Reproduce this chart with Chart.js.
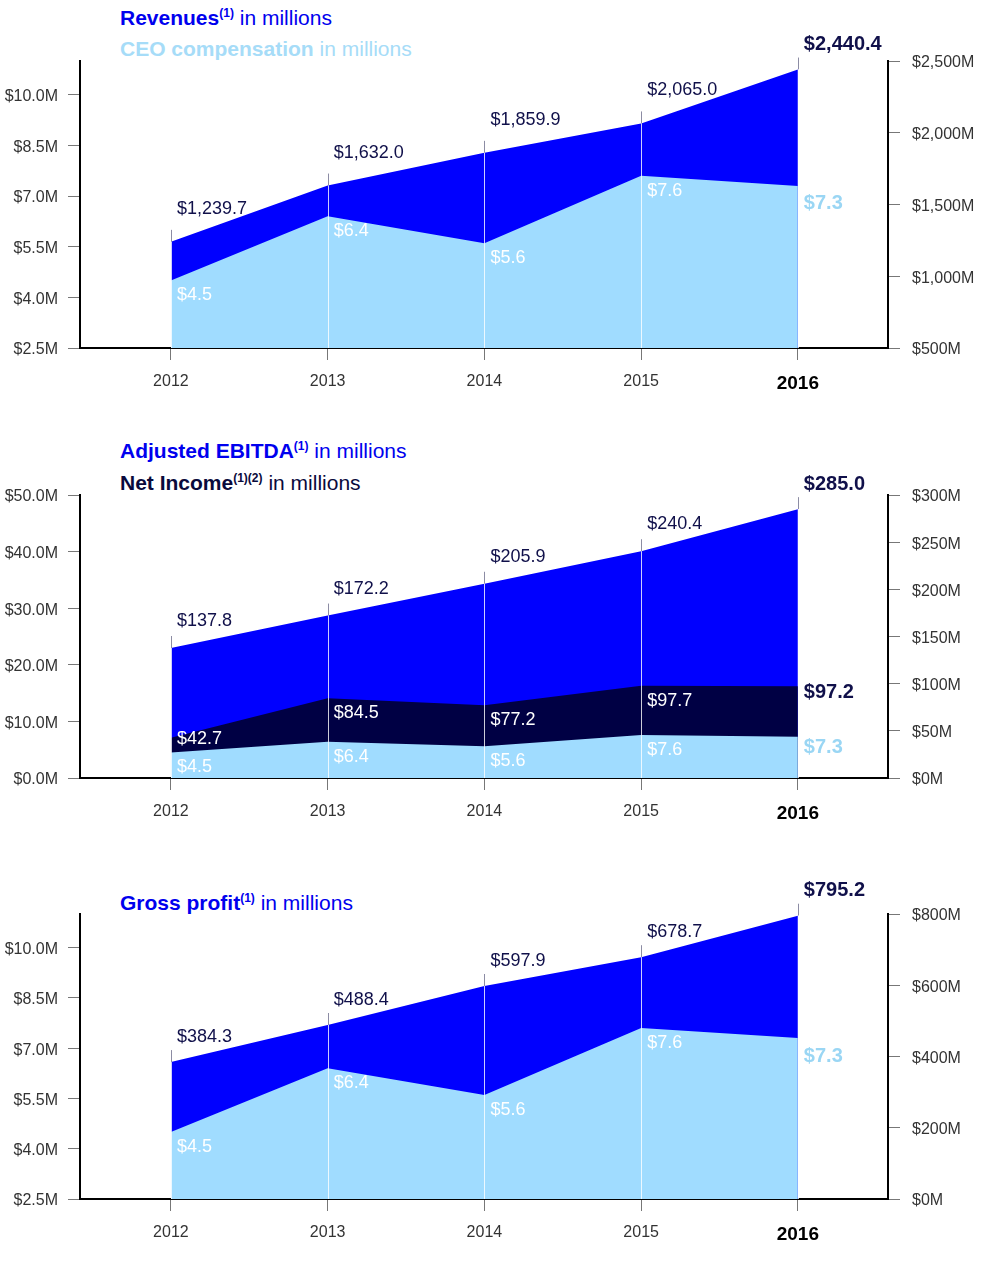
<!DOCTYPE html>
<html>
<head>
<meta charset="utf-8">
<script src="https://cdn.jsdelivr.net/npm/chart.js@4/dist/chart.umd.min.js"></script>
<style>
  body { margin: 0; background: #fff; font-family: "Liberation Sans", Arial, sans-serif; }
  #page { position: relative; width: 983px; height: 1282px; }
  canvas { position: absolute; left: 0; }
  .ttl { position: absolute; left: 120px; font-size: 21px; line-height: 24px; white-space: nowrap; }
  .ttl b { font-weight: bold; }
  .ttl sup { font-size: 12px; line-height: 0; vertical-align: 8px; font-weight: bold; }
</style>
</head>
<body>
<div id="page">
  <div class="ttl" style="top:6px;color:#0000ee"><b>Revenues<sup>(1)</sup></b> in millions</div>
  <div class="ttl" style="top:37px;color:#a6dcf8"><b>CEO compensation</b> in millions</div>
  <canvas id="c1" width="983" height="398" style="top:0px"></canvas>

  <div class="ttl" style="top:439px;color:#0000ee"><b>Adjusted EBITDA<sup>(1)</sup></b> in millions</div>
  <div class="ttl" style="top:471px;color:#0a0a3c"><b>Net Income<sup>(1)(2)</sup></b> in millions</div>
  <canvas id="c2" width="983" height="408" style="top:420px"></canvas>

  <div class="ttl" style="top:891px;color:#0000ee"><b>Gross profit<sup>(1)</sup></b> in millions</div>
  <canvas id="c3" width="983" height="409" style="top:840px"></canvas>
</div>

<script>
// data, in millions
const years = [2012, 2013, 2014, 2015, 2016];
const revenue = [1239.7, 1632.0, 1859.9, 2065.0, 2440.4];
const ceoComp = [4.5, 6.4, 5.6, 7.6, 7.3];
const ebitda = [137.8, 172.2, 205.9, 240.4, 285.0];
const netIncome = [42.7, 84.5, 77.2, 97.7, 97.2];
const grossProfit = [384.3, 488.4, 597.9, 678.7, 795.2];

// tick labels
const ceoTicks = [2.5, 4.0, 5.5, 7.0, 8.5, 10.0];
const ceoTicks2 = [0, 10, 20, 30, 40, 50];
const revenueTicks = [500, 1000, 1500, 2000, 2500];
const ebitdaTicks = [0, 50, 100, 150, 200, 250, 300];
const grossTicks = [0, 200, 400, 600, 800];

const FONT = '"Liberation Sans", Arial, sans-serif';
const BLUE = '#0000ff';
const LIGHT = '#a0dcff';
const NAVY = '#000044';
const TEXT_NAVY = '#10104a';

const fmtVal = v => '$' + v.toLocaleString('en-US', { minimumFractionDigits: 1, maximumFractionDigits: 1 });
const isLastYear = c => !!(c.tick && c.tick.value === years[years.length - 1]);

// vertical year lines
const yearLines = {
  id: 'yearLines',
  afterDatasetsDraw(chart) {
    const ctx = chart.ctx;
    const xs = chart.scales.x;
    const bottom = chart.chartArea.bottom;
    ctx.save();
    ctx.lineWidth = 1;
    years.forEach((yr, i) => {
      const x = Math.round(xs.getPixelForValue(yr)) + 0.5;
      let top = bottom;
      chart.data.datasets.forEach((ds, di) => {
        const el = chart.getDatasetMeta(di).data[i];
        if (el && el.y < top) top = el.y;
      });
      ctx.strokeStyle = '#8c8ca4';
      ctx.beginPath(); ctx.moveTo(x, top - 12); ctx.lineTo(x, top); ctx.stroke();
      ctx.strokeStyle = 'rgba(255,255,255,0.8)';
      ctx.beginPath(); ctx.moveTo(x, top); ctx.lineTo(x, bottom); ctx.stroke();
    });
    ctx.restore();
  }
};

// value labels
const valueLabels = {
  id: 'valueLabels',
  afterDraw(chart) {
    const ctx = chart.ctx;
    const off = chart.options.plugins.valueLabels.above;
    const bottom = chart.chartArea.bottom;
    let lastBelowY = null;
    ctx.save();
    ctx.textAlign = 'left';
    ctx.textBaseline = 'middle';
    chart.data.datasets.forEach((ds, di) => {
      const pts = chart.getDatasetMeta(di).data;
      pts.forEach((p, i) => {
        const last = i === pts.length - 1;
        let y;
        if (ds.labelPos === 'above') {
          y = p.y - (last ? 25 : off);
        } else if (last) {
          // end labels sit right of the area, stacked without overlap
          y = Math.min(p.y + 18, lastBelowY === null ? bottom - 31 : lastBelowY - 55);
          lastBelowY = y;
        } else {
          y = p.y + 15;
          if (di > 0) {
            const below = chart.getDatasetMeta(di - 1).data[i];
            y = Math.min(y, below.y - 13);
          }
        }
        ctx.font = last ? 'bold 20px ' + FONT : '18px ' + FONT;
        ctx.fillStyle = last ? ds.lastColor : ds.labelColor;
        ctx.fillText(fmtVal(ds.data[i].y), p.x + 6, y);
      });
    });
    ctx.restore();
  }
};

function area(label, values, color, axis, pos, labelColor, lastColor) {
  return {
    label,
    data: years.map((yr, i) => ({ x: yr, y: values[i] })),
    yAxisID: axis,
    backgroundColor: color,
    borderColor: 'rgba(0,0,0,0)',
    borderWidth: 1,
    pointRadius: 0,
    tension: 0,
    fill: 'start',
    labelPos: pos,
    labelColor,
    lastColor
  };
}

function fixedTicks(list) {
  return s => { s.ticks = list.map(v => ({ value: v })); };
}

function makeChart(id, datasets, left, right, top, aboveOff) {
  const tickFont = { family: FONT, size: 16 };
  return new Chart(document.getElementById(id), {
    type: 'line',
    data: { datasets },
    options: {
      responsive: false,
      animation: false,
      devicePixelRatio: 1,
      layout: { padding: { top: top, left: 0, right: 0, bottom: 0 } },
      scales: {
        x: {
          type: 'linear',
          min: 2011.42,
          max: 2016.575,
          afterBuildTicks: fixedTicks(years),
          afterFit: s => { s.height = 50; },
          border: { color: '#000', width: 2 },
          grid: { drawOnChartArea: false, tickLength: 12, tickColor: '#777', tickWidth: 1 },
          ticks: {
            padding: 12,
            callback: v => String(v),
            color: c => isLastYear(c) ? '#000' : '#333',
            font: c => isLastYear(c)
              ? { family: FONT, size: 19, weight: 'bold' }
              : { family: FONT, size: 16 }
          }
        },
        yL: {
          position: 'left',
          min: left.min,
          max: left.max,
          afterBuildTicks: fixedTicks(left.ticks),
          afterFit: s => { s.width = 80; },
          border: { color: '#000', width: 2 },
          grid: { drawOnChartArea: false, tickLength: 12, tickColor: '#777', tickWidth: 1 },
          ticks: { padding: 10, labelOffset: 2, color: '#333', font: tickFont, callback: v => '$' + v.toFixed(1) + 'M' }
        },
        yR: {
          position: 'right',
          min: right.min,
          max: right.max,
          afterBuildTicks: fixedTicks(right.ticks),
          afterFit: s => { s.width = 95; },
          border: { color: '#000', width: 2 },
          grid: { drawOnChartArea: false, tickLength: 12, tickColor: '#777', tickWidth: 1 },
          ticks: { padding: 12, labelOffset: 2, color: '#333', font: tickFont, callback: v => '$' + v.toLocaleString('en-US') + 'M' }
        }
      },
      plugins: {
        legend: { display: false },
        tooltip: { enabled: false },
        valueLabels: { above: aboveOff }
      }
    },
    plugins: [yearLines, valueLabels]
  });
}

makeChart('c1', [
  area('CEO compensation', ceoComp, LIGHT, 'yL', 'below', '#ffffff', '#9ad6f4'),
  area('Revenues', revenue, BLUE, 'yR', 'above', TEXT_NAVY, TEXT_NAVY)
], { min: 2.5, max: 11.0, ticks: ceoTicks }, { min: 500, max: 2500, ticks: revenueTicks }, 61, 33);

makeChart('c2', [
  area('CEO compensation', ceoComp, LIGHT, 'yL', 'below', '#ffffff', '#9ad6f4'),
  area('Net Income', netIncome, NAVY, 'yR', 'below', '#ffffff', TEXT_NAVY),
  area('Adjusted EBITDA', ebitda, BLUE, 'yR', 'above', TEXT_NAVY, TEXT_NAVY)
], { min: 0, max: 50, ticks: ceoTicks2 }, { min: 0, max: 300, ticks: ebitdaTicks }, 75, 27);

makeChart('c3', [
  area('CEO compensation', ceoComp, LIGHT, 'yL', 'below', '#ffffff', '#9ad6f4'),
  area('Gross profit', grossProfit, BLUE, 'yR', 'above', TEXT_NAVY, TEXT_NAVY)
], { min: 2.5, max: 11.0, ticks: ceoTicks }, { min: 0, max: 800, ticks: grossTicks }, 74, 25);
</script>
</body>
</html>
